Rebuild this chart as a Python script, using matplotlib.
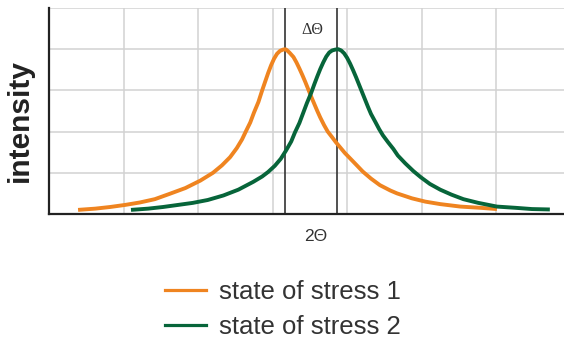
import matplotlib
matplotlib.use("Agg")
import matplotlib.pyplot as plt
from matplotlib.lines import Line2D

# ---- data (x/y in grid units) ----
orange_x = [0.39, 0.62, 0.82, 1.02, 1.22, 1.42, 1.62, 1.83, 2.03, 2.20, 2.32, 2.43,
            2.52, 2.59, 2.64, 2.70, 2.75, 2.81, 2.86, 2.90, 2.94, 2.98, 3.02, 3.06,
            3.10, 3.14, 3.17,
            3.19, 3.23, 3.28, 3.32, 3.36, 3.40, 3.44, 3.48, 3.52, 3.56, 3.60, 3.64,
            3.69, 3.74, 3.80, 3.85, 3.91, 3.97, 4.04, 4.12, 4.21, 4.32, 4.44, 4.58,
            4.67, 4.87, 5.05, 5.25, 5.52, 5.79, 6.01]
orange_y = [0.10, 0.13, 0.17, 0.22, 0.28, 0.36, 0.49, 0.63, 0.81, 1.00, 1.18, 1.38,
            1.60, 1.81, 2.00, 2.22, 2.46, 2.72, 3.00, 3.21, 3.42, 3.61, 3.77, 3.89,
            3.96, 3.99, 4.00,
            3.98, 3.91, 3.81, 3.68, 3.53, 3.37, 3.20, 3.02, 2.84, 2.67, 2.50, 2.34,
            2.16, 2.00, 1.86, 1.74, 1.61, 1.48, 1.35, 1.20, 1.03, 0.86, 0.70, 0.57,
            0.50, 0.38, 0.30, 0.24, 0.18, 0.15, 0.12]

green_x = [1.10, 1.33, 1.53, 1.73, 1.93, 2.13, 2.34, 2.54, 2.74, 2.86, 2.94, 3.03,
           3.11, 3.18, 3.25, 3.30, 3.36, 3.41, 3.46, 3.52, 3.56, 3.60, 3.64, 3.68,
           3.72, 3.76, 3.80, 3.84, 3.88,
           3.92, 3.96, 4.00, 4.04, 4.08, 4.12, 4.16, 4.20, 4.24, 4.28, 4.32, 4.38,
           4.43, 4.48, 4.55, 4.62, 4.68, 4.78, 4.89, 4.99, 5.11, 5.25, 5.40, 5.56,
           5.76, 6.01, 6.26, 6.48, 6.72]
green_y = [0.10, 0.13, 0.17, 0.22, 0.27, 0.34, 0.45, 0.59, 0.78, 0.91, 1.02, 1.17,
           1.34, 1.54, 1.76, 1.98, 2.21, 2.45, 2.69, 2.95, 3.15, 3.34, 3.52, 3.68,
           3.82, 3.92, 3.97, 3.99, 4.00,
           3.97, 3.90, 3.79, 3.65, 3.49, 3.32, 3.14, 2.96, 2.78, 2.60, 2.43, 2.23,
           2.06, 1.91, 1.74, 1.58, 1.42, 1.23, 1.04, 0.89, 0.73, 0.59, 0.47, 0.36,
           0.27, 0.18, 0.15, 0.12, 0.11]

peak_positions = [3.17, 3.87]
series_labels = ["state of stress 1", "state of stress 2"]
x_label = "2\u0398"
y_label = "intensity"
shift_label = "\u0394\u0398"

ORANGE = "#ef8420"
GREEN = "#07653a"

fig = plt.figure(figsize=(5.64, 3.40), dpi=100)
ax = fig.add_axes([49 / 564, (340 - 214) / 340, 1 - 49 / 564, 206 / 340])
ax.set_xlim(0, 6.91)
ax.set_ylim(0, 5)

ax.set_xticks([1, 2, 3, 4, 5, 6])
ax.set_yticks([1, 2, 3, 4, 5])
ax.grid(True, color="#d2d2d2", linewidth=1.1)
ax.tick_params(length=0, labelbottom=False, labelleft=False)
ax.set_axisbelow(True)
for s in ("top", "right"):
    ax.spines[s].set_visible(False)
for s in ("left", "bottom"):
    ax.spines[s].set_color("#222222")
    ax.spines[s].set_linewidth(1.6)

for xp in peak_positions:
    ax.axvline(xp, color="#333333", linewidth=1.2, zorder=2)

ax.plot(orange_x, orange_y, color=ORANGE, linewidth=2.8, solid_capstyle="butt",
        solid_joinstyle="round", zorder=3)
ax.plot(green_x, green_y, color=GREEN, linewidth=2.8, solid_capstyle="butt",
        solid_joinstyle="round", zorder=3)

ax.text(3.53, 4.47, shift_label, fontsize=11.5, family="Liberation Serif",
        color="#333333", ha="center", va="center")
ax.text(3.58, -0.107, x_label, fontsize=12.5, family="Liberation Sans",
        color="#333333", ha="center", va="center", transform=ax.get_xaxis_transform())

fig.text(20 / 564, 1 - 120 / 340, y_label, rotation=90, fontsize=21.5,
         fontweight="bold", family="Liberation Sans", color="#222222",
         ha="center", va="center")

handles = [Line2D([], [], color=ORANGE, linewidth=2.3),
           Line2D([], [], color=GREEN, linewidth=2.3)]
fig.legend(handles, series_labels, loc="center left",
           bbox_to_anchor=(165 / 564, 1 - 309.5 / 340), frameon=False,
           prop={"family": "Liberation Sans", "size": 18.5}, labelcolor="#333333",
           handlelength=1.6, handletextpad=0.5, labelspacing=0.45,
           borderpad=0, borderaxespad=0)

fig.savefig("out.png", dpi=100)
